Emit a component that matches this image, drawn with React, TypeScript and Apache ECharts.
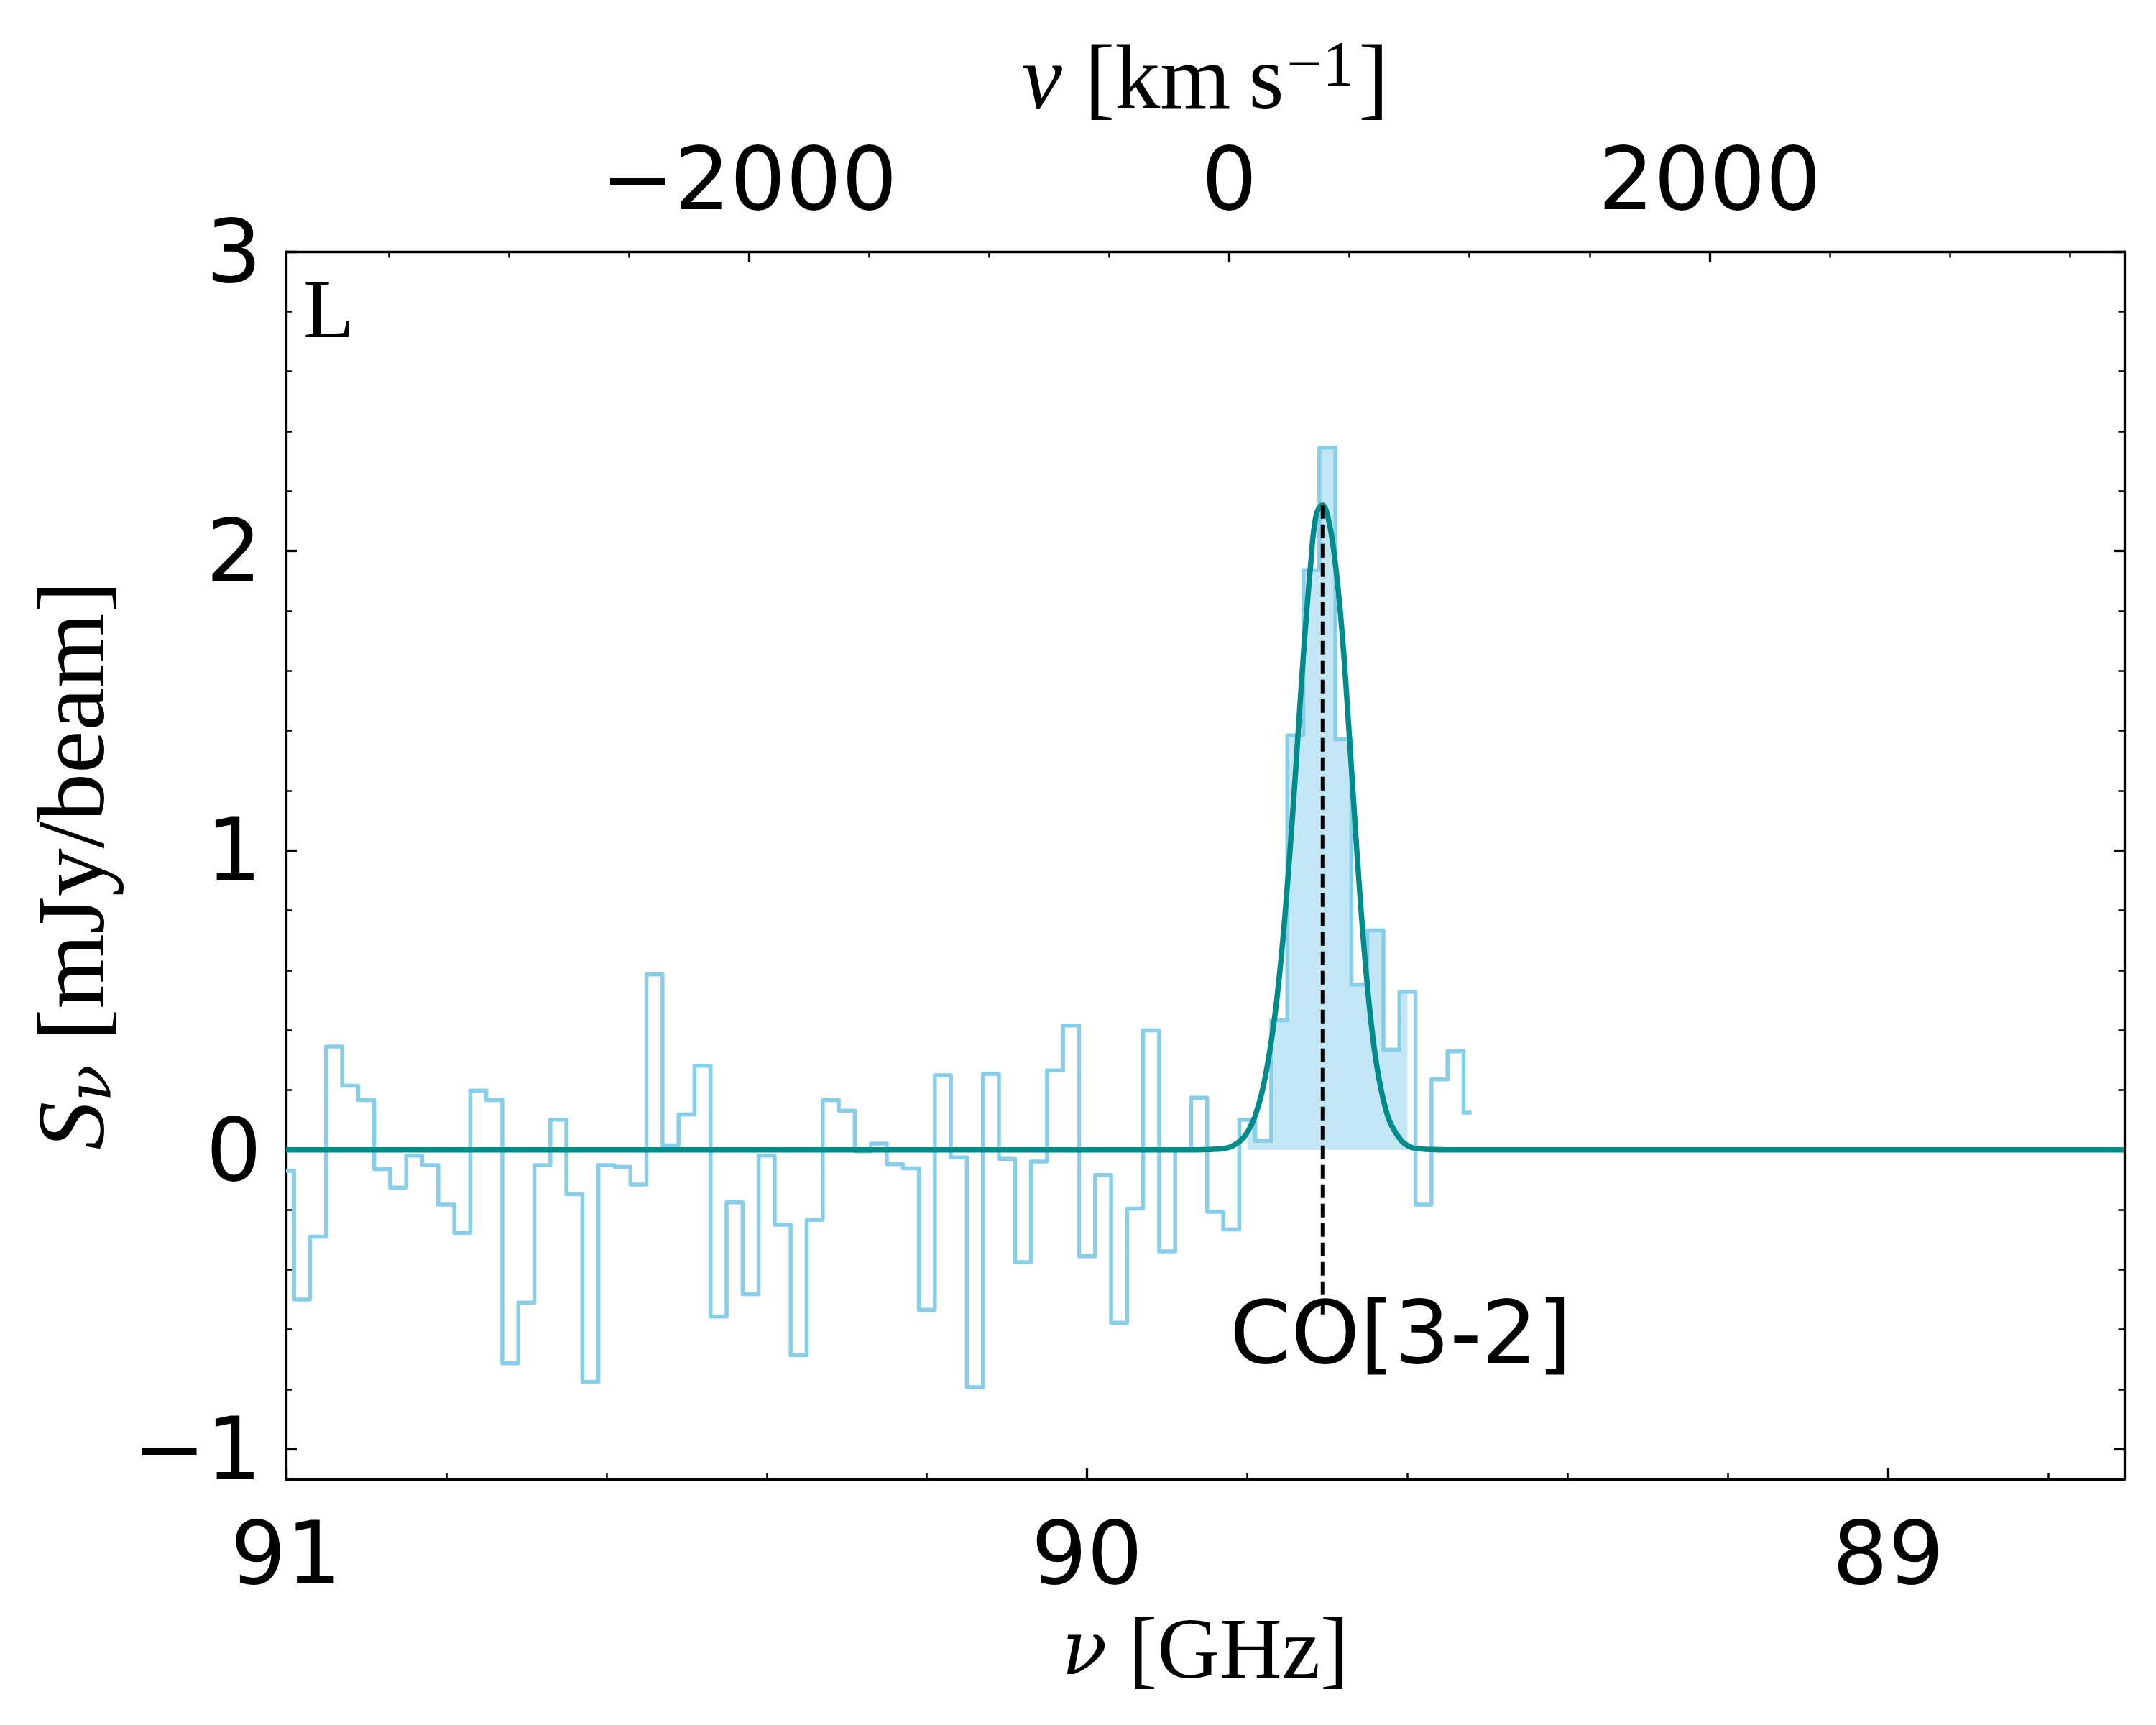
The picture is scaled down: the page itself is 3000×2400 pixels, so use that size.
import React, { useEffect, useRef } from "react";
import * as echarts from "echarts";

// ---- data ----
const CHANNEL_FREQ_GHZ = [
  91.0, 90.98, 90.96, 90.94, 90.92, 90.9, 90.88, 90.86, 90.84, 90.82,
  90.8, 90.78, 90.76, 90.74, 90.72, 90.7, 90.68, 90.66, 90.64, 90.62,
  90.6, 90.58, 90.56, 90.54, 90.52, 90.5, 90.48, 90.46, 90.44, 90.42,
  90.4, 90.38, 90.36, 90.34, 90.32, 90.3, 90.28, 90.26, 90.24, 90.22,
  90.2, 90.18, 90.16, 90.14, 90.12, 90.1, 90.08, 90.06, 90.04, 90.02,
  90.0, 89.98, 89.96, 89.94, 89.92, 89.9, 89.88, 89.86, 89.84, 89.82,
  89.8, 89.78, 89.76, 89.74, 89.72, 89.7, 89.68, 89.66, 89.64, 89.62,
  89.6, 89.58, 89.56, 89.54, 89.52,
];
const CHANNEL_FLUX_MJY = [
  -0.07, -0.5, -0.29, 0.345, 0.214, 0.166, -0.064, -0.126, -0.019, -0.051,
  -0.183, -0.277, 0.198, 0.166, -0.713, -0.51, -0.051, 0.101, -0.148, -0.775,
  -0.051, -0.057, -0.116, 0.586, 0.015, 0.118, 0.281, -0.557, -0.175, -0.482,
  -0.019, -0.25, -0.686, -0.234, 0.166, 0.131, -0.005, 0.021, -0.048, -0.062,
  -0.534, 0.249, -0.025, -0.793, 0.254, -0.03, -0.375, -0.039, 0.265, 0.415,
  -0.355, -0.084, -0.577, -0.196, 0.399, -0.339, 0.0, 0.174, -0.207, -0.266,
  0.1, 0.03, 0.432, 1.384, 1.936, 2.345, 1.371, 0.552, 0.733, 0.335,
  0.528, -0.183, 0.235, 0.329, 0.124,
];
// shaded line channels (index range of the fill)
const FILL_FIRST_CHANNEL = 60;
const FILL_LAST_CHANNEL = 70;

// Gaussian fit curve
const FIT_FREQ_GHZ = [
  91.0, 89.88, 89.832, 89.814, 89.802, 89.79, 89.778, 89.766, 89.757, 89.748,
  89.739, 89.73, 89.721, 89.714, 89.706, 89.699, 89.691, 89.682, 89.673, 89.664,
  89.655, 89.646, 89.637, 89.625, 89.613, 89.599, 89.578, 89.54, 88.705,
];
const FIT_FLUX_MJY = [
  0, 0, 0.003, 0.02, 0.05, 0.115, 0.237, 0.44, 0.66, 0.95,
  1.29, 1.65, 1.95, 2.12, 2.153, 2.11, 1.98, 1.74, 1.4, 1.03,
  0.7, 0.44, 0.26, 0.116, 0.05, 0.013, 0.002, 0, 0,
];

const LINE_FREQ_GHZ = 89.706;
const LINE_MARK_TOP = 2.153;
const LINE_MARK_BOTTOM = -0.55;
const LINE_NAME = "CO[3-2]";
const LINE_LABEL_POS = [89.822, -0.61];
const PANEL_LABEL = "L";

const NU_MIN = 88.705;
const NU_MAX = 91.0;
const NU_MAJOR = [89, 90, 91];
const NU_MINOR = [90.8, 90.6, 90.4, 90.2, 89.8, 89.6, 89.4, 89.2, 88.8];
const VEL_MIN = -3928;
const VEL_MAX = 3727;
const VEL_MAJOR = [-2000, 0, 2000];
const VEL_MINOR = [-3500, -3000, -2500, -1500, -1000, -500, 500, 1000, 1500, 2500, 3000, 3500];
const Y_MIN = -1.1;
const Y_MAX = 3;
const Y_MAJOR = [-1, 0, 1, 2, 3];
const Y_MINOR = [-0.8, -0.6, -0.4, -0.2, 0.2, 0.4, 0.6, 0.8, 1.2, 1.4, 1.6, 1.8, 2.2, 2.4, 2.6, 2.8];

// ---- styles ----
const TICK_FONT = "DejaVu Sans";
const SERIF = "Liberation Serif";
const GREEK = "DejaVu Serif";
const TICK_SIZE = 122;
const NAME_SIZE = 126;
const AXIS_W = 3.3;
const MAJOR_LEN = 15;
const MINOR_LEN = 8.5;

const fmt = (v: number) => (v < 0 ? "\u2212" + Math.abs(v) : String(v));

function axisBase(extra: any) {
  return {
    splitLine: { show: false },
    axisLine: { show: false, onZero: false, lineStyle: { color: "#000", width: AXIS_W } },
    ...extra,
  };
}

function majorTick(values: number[]) {
  return { show: true, inside: true, length: MAJOR_LEN, customValues: values, lineStyle: { color: "#000", width: AXIS_W } };
}
function minorTick(values: number[]) {
  return { show: true, inside: true, length: MINOR_LEN, customValues: values, lineStyle: { color: "#000", width: 2.5 } };
}

export default function App() {
  const ref = useRef<HTMLDivElement>(null);
  useEffect(() => {
    document.body.style.margin = "0";
    if (!ref.current) return;
    const chart = echarts.init(ref.current, undefined, { renderer: "svg" });

    const histData = CHANNEL_FREQ_GHZ.map((f, i) => [f, CHANNEL_FLUX_MJY[i]]);
    const fillData = histData.slice(FILL_FIRST_CHANNEL, FILL_LAST_CHANNEL + 1);
    const fitData = FIT_FREQ_GHZ.map((f, i) => [f, FIT_FLUX_MJY[i]]);

    const option: any = {
      animation: false,
      backgroundColor: "#fff",
      grid: { left: 398, top: 350, right: 44, bottom: 342, containLabel: false },
      xAxis: [
        axisBase({
          type: "value", min: NU_MIN, max: NU_MAX, inverse: true, position: "bottom",
          axisLine: { show: true, onZero: false, lineStyle: { color: "#000", width: AXIS_W } },
          axisTick: majorTick(NU_MAJOR),
          axisLabel: { show: true, customValues: NU_MAJOR, formatter: fmt, fontFamily: TICK_FONT, fontSize: TICK_SIZE, color: "#000", margin: 42 },
          name: "{g|\u03bd}{r| [GHz]}",
          nameLocation: "middle",
          nameGap: 175,
          nameTextStyle: {
            color: "#000",
            rich: {
              g: { fontFamily: GREEK, fontStyle: "italic", fontSize: 104, color: "#000" },
              r: { fontFamily: SERIF, fontSize: 120, color: "#000" },
            },
          },
        }),
        axisBase({
          type: "value", min: NU_MIN, max: NU_MAX, inverse: true, position: "bottom",
          axisTick: minorTick(NU_MINOR),
          axisLabel: { show: false },
        }),
        axisBase({
          type: "value", min: VEL_MIN, max: VEL_MAX, position: "top",
          axisLine: { show: true, onZero: false, lineStyle: { color: "#000", width: AXIS_W } },
          axisTick: majorTick(VEL_MAJOR),
          axisLabel: { show: true, customValues: VEL_MAJOR, formatter: fmt, fontFamily: TICK_FONT, fontSize: TICK_SIZE, color: "#000", margin: 40 },
          name: "{i|v}{r| [km\u2009s}{sup|\u22121}{r|]}",
          nameLocation: "middle",
          nameGap: 180,
          nameTextStyle: {
            color: "#000",
            rich: {
              i: { fontFamily: SERIF, fontStyle: "italic", fontSize: NAME_SIZE, color: "#000" },
              r: { fontFamily: SERIF, fontSize: NAME_SIZE, color: "#000" },
              sup: { fontFamily: SERIF, fontSize: 88, color: "#000", verticalAlign: "top", padding: [0, 6, 0, 4] },
            },
          },
        }),
        axisBase({
          type: "value", min: VEL_MIN, max: VEL_MAX, position: "top",
          axisTick: minorTick(VEL_MINOR),
          axisLabel: { show: false },
        }),
      ],
      yAxis: [
        axisBase({
          type: "value", min: Y_MIN, max: Y_MAX, position: "left",
          axisLine: { show: true, onZero: false, lineStyle: { color: "#000", width: AXIS_W } },
          axisTick: majorTick(Y_MAJOR),
          axisLabel: { show: true, customValues: Y_MAJOR, formatter: fmt, fontFamily: TICK_FONT, fontSize: TICK_SIZE, color: "#000", margin: 34 },
          name: "{i|S}{sub|\u03bd}{r| [mJy/beam]}",
          nameLocation: "middle",
          nameGap: 232,
          nameTextStyle: {
            color: "#000",
            rich: {
              i: { fontFamily: SERIF, fontStyle: "italic", fontSize: 134, color: "#000" },
              sub: { fontFamily: GREEK, fontStyle: "italic", fontSize: 84, color: "#000", verticalAlign: "bottom" },
              r: { fontFamily: SERIF, fontSize: 134, color: "#000" },
            },
          },
        }),
        axisBase({
          type: "value", min: Y_MIN, max: Y_MAX, position: "left",
          axisTick: minorTick(Y_MINOR),
          axisLabel: { show: false },
        }),
        axisBase({
          type: "value", min: Y_MIN, max: Y_MAX, position: "right",
          axisLine: { show: true, onZero: false, lineStyle: { color: "#000", width: AXIS_W } },
          axisTick: majorTick(Y_MAJOR),
          axisLabel: { show: false },
        }),
        axisBase({
          type: "value", min: Y_MIN, max: Y_MAX, position: "right",
          axisTick: minorTick(Y_MINOR),
          axisLabel: { show: false },
        }),
      ],
      series: [
        {
          type: "line", xAxisIndex: 0, yAxisIndex: 0, step: "middle", data: fillData,
          symbol: "none", lineStyle: { width: 1.5, color: "rgba(135,206,235,0.5)" },
          areaStyle: { color: "rgba(135,206,235,0.5)", opacity: 1, origin: 0 }, z: 1, silent: true,
        },
        {
          type: "line", xAxisIndex: 0, yAxisIndex: 0, step: "middle", data: histData,
          symbol: "none", lineStyle: { width: 5.5, color: "#87CEEB", join: "round" }, z: 2, silent: true,
        },
        {
          type: "line", xAxisIndex: 0, yAxisIndex: 0, data: fitData, smooth: 0.4,
          symbol: "none", lineStyle: { width: 7.5, color: "#008B8B" }, z: 3, silent: true,
        },
        {
          type: "line", xAxisIndex: 0, yAxisIndex: 0,
          data: [[LINE_FREQ_GHZ, LINE_MARK_TOP], [LINE_FREQ_GHZ, LINE_MARK_BOTTOM]],
          symbol: "none", lineStyle: { width: 5, color: "#000", type: [19, 8] }, z: 4, silent: true,
        },
        {
          type: "scatter", xAxisIndex: 0, yAxisIndex: 0, data: [LINE_LABEL_POS],
          symbolSize: 0, z: 5, silent: true,
          itemStyle: { color: "#000", opacity: 1 },
          label: {
            show: true, formatter: LINE_NAME, position: [0, 0], align: "left", verticalAlign: "middle",
            fontFamily: TICK_FONT, fontSize: TICK_SIZE, color: "#000", opacity: 1,
            textBorderWidth: 0, textBorderColor: "transparent",
          },
        },
      ],
      graphic: [
        {
          type: "text", left: 422, top: 372, z: 10,
          style: { text: PANEL_LABEL, font: `116px "${SERIF}"`, fill: "#000" },
        },
      ],
    };
    chart.setOption(option);
    return () => chart.dispose();
  }, []);
  return <div ref={ref} style={{ width: 3000, height: 2400 }} />;
}
